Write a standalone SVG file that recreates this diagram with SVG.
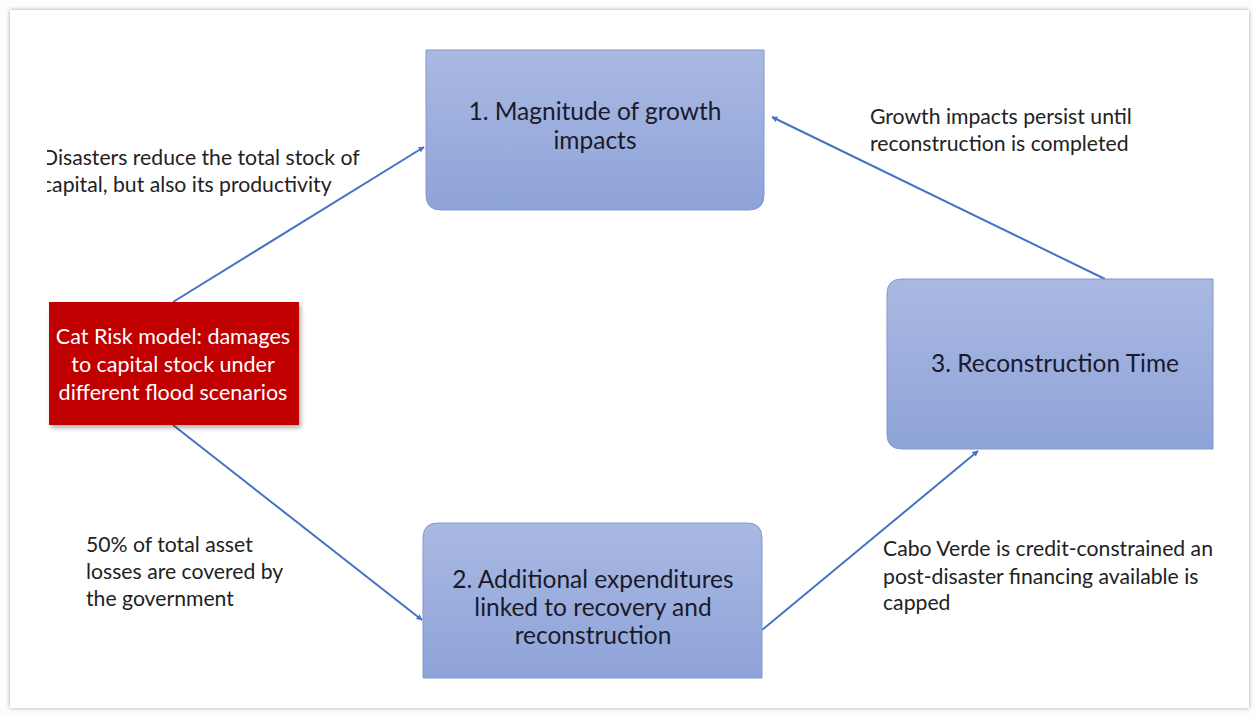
<svg xmlns="http://www.w3.org/2000/svg" width="1255" height="715" viewBox="0 0 1255 715">
<defs>
<linearGradient id="blue" x1="0" y1="0" x2="0" y2="1">
<stop offset="0" stop-color="#AAB9E2"/>
<stop offset="1" stop-color="#8EA3D9"/>
</linearGradient>
<filter id="sh" x="-10%" y="-10%" width="130%" height="130%">
<feDropShadow dx="2" dy="3" stdDeviation="2" flood-color="#000" flood-opacity="0.3"/>
</filter>
<filter id="fsh" x="-5%" y="-5%" width="110%" height="110%">
<feDropShadow dx="0" dy="0" stdDeviation="2" flood-color="#000" flood-opacity="0.35"/>
</filter>
<marker id="arr" viewBox="0 0 10 10" refX="9" refY="5" markerWidth="6" markerHeight="6" orient="auto" markerUnits="userSpaceOnUse">
<path d="M0,0 L10,5 L0,10 z" fill="#4472C4"/>
</marker>
<clipPath id="clipL"><rect x="47" y="0" width="400" height="715"/></clipPath>
</defs>
<style>
.box{fill:url(#blue);stroke:#8497C9;stroke-width:1}
.lbl{font-family:"Lato","Liberation Sans",sans-serif;font-size:24.5px;fill:#1a1a2a;text-anchor:middle}
.note{font-family:"Lato","Liberation Sans",sans-serif;font-size:21.2px;fill:#222}
.red{font-family:"Lato","Liberation Sans",sans-serif;font-size:21.5px;fill:#fff;text-anchor:middle}
.con{stroke:#4472C4;stroke-width:2;fill:none;marker-end:url(#arr)}
</style>
<rect x="0" y="0" width="1255" height="715" fill="#fdfdfd"/>
<rect x="10" y="10" width="1239" height="698" fill="#fff" filter="url(#fsh)"/>

<g id="connectors">
<line class="con" x1="173" y1="302" x2="424" y2="147"/>
<line class="con" x1="173" y1="425" x2="422" y2="620"/>
<line class="con" x1="762" y1="630" x2="978" y2="451"/>
<line class="con" x1="1105" y1="279" x2="772" y2="117"/>
</g>

<g id="node1">
<path class="box" d="M426,50 L764,50 L764,195 Q764,210 749,210 L441,210 Q426,210 426,195 Z"/>
<text class="lbl" x="595" y="120">1. Magnitude of growth</text>
<text class="lbl" x="595" y="149">impacts</text>
</g>

<g id="node2">
<path class="box" d="M423,678 L423,538 Q423,523 438,523 L747,523 Q762,523 762,538 L762,678 Z"/>
<text class="lbl" x="593" y="588">2. Additional expenditures</text>
<text class="lbl" x="593" y="616">linked to recovery and</text>
<text class="lbl" x="593" y="644">reconstruction</text>
</g>

<g id="node3">
<path class="box" d="M1213,279 L1213,449 L902,449 Q887,449 887,434 L887,294 Q887,279 902,279 Z"/>
<text class="lbl" x="1055" y="372">3. Reconstruction Time</text>
</g>

<g id="node0">
<rect x="49" y="302" width="250" height="123" fill="#C00000" filter="url(#sh)"/>
<text class="red" x="173" y="344">Cat Risk model: damages</text>
<text class="red" x="173" y="372">to capital stock under</text>
<text class="red" x="173" y="400">different flood scenarios</text>
</g>

<g id="label-a" clip-path="url(#clipL)">
<text class="note" x="42" y="165">Disasters reduce the total stock of</text>
<text class="note" x="42" y="192">capital, but also its productivity</text>
</g>
<g id="label-b">
<text class="note" x="870" y="124">Growth impacts persist until</text>
<text class="note" x="870" y="151">reconstruction is completed</text>
</g>
<g id="label-c">
<text class="note" x="86" y="552">50% of total asset</text>
<text class="note" x="86" y="579">losses are covered by</text>
<text class="note" x="86" y="606">the government</text>
</g>
<g id="label-d">
<text class="note" x="883" y="556">Cabo Verde is credit-constrained an</text>
<text class="note" x="883" y="584">post-disaster financing available is</text>
<text class="note" x="883" y="610">capped</text>
</g>
</svg>
